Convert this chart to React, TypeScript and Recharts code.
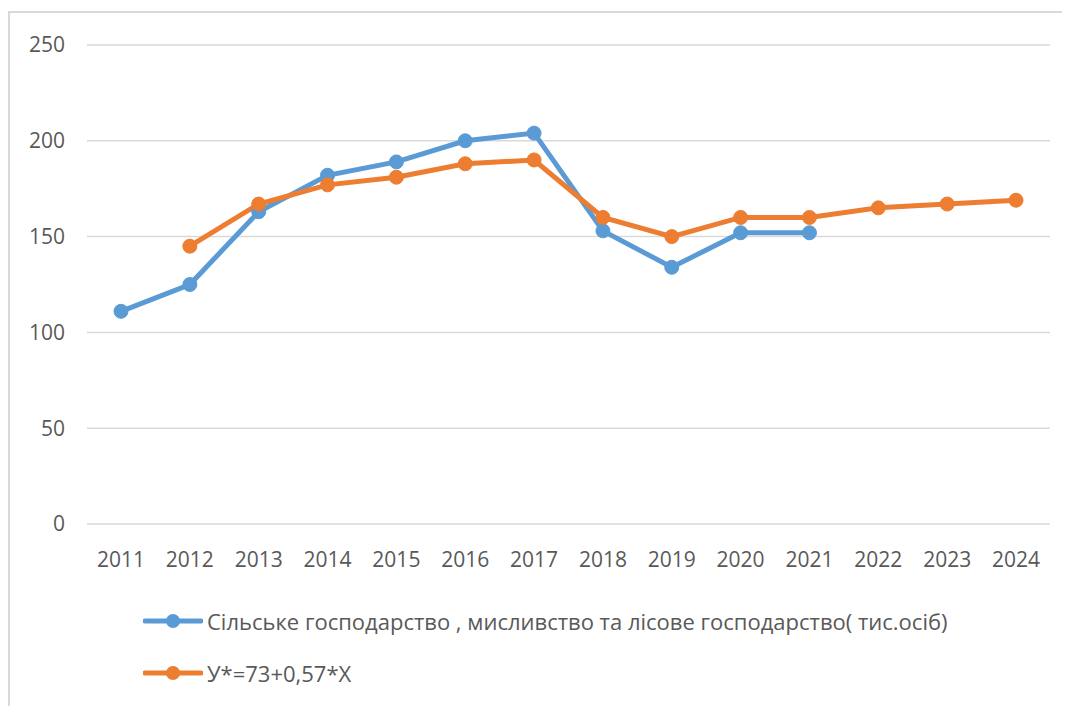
import React from "react";
import { LineChart, Line, XAxis, YAxis, CartesianGrid } from "recharts";

const YEARS = ["2011", "2012", "2013", "2014", "2015", "2016", "2017", "2018", "2019", "2020", "2021", "2022", "2023", "2024"];
const ACTUAL = [111, 125, 163, 182, 189, 200, 204, 153, 134, 152, 152, null, null, null];
const TREND = [null, 145, 167, 177, 181, 188, 190, 160, 150, 160, 160, 165, 167, 169];
const Y_TICKS = [0, 50, 100, 150, 200, 250];

const SERIES = [
  { key: "actual", name: "Сільське господарство , мисливство та лісове господарство( тис.осіб)", color: "#5B9BD5" },
  { key: "trend", name: "У*=73+0,57*Х", color: "#ED7D31" },
];

const data = YEARS.map((year, i) => ({ year, actual: ACTUAL[i], trend: TREND[i] }));

const FONT = "'Open Sans', 'Noto Sans', sans-serif";
const tickStyle = { fill: "#595959", fontSize: 21, fontFamily: FONT };

export default function App() {
  return (
    <div
      style={{
        position: "relative",
        marginTop: 3,
        width: 1062,
        height: 700,
        borderLeft: "2px solid #d9d9d9",
        borderTop: "2px solid #d9d9d9",
        boxSizing: "border-box",
        background: "#fff",
        fontFamily: FONT,
      }}
    >
      <LineChart width={1060} height={580} data={data} margin={{ top: 32, right: 20, left: 17, bottom: 0 }}>
        <CartesianGrid vertical={false} stroke="#d9d9d9" strokeWidth={1.5} />
        <XAxis
          dataKey="year"
          axisLine={false}
          tickLine={false}
          tickSize={0}
          tickMargin={28}
          tick={tickStyle}
          height={69}
          interval={0}
          padding={{ left: 34, right: 34 }}
        />
        <YAxis
          domain={[0, 250]}
          ticks={Y_TICKS}
          axisLine={false}
          tickLine={false}
          tickSize={0}
          tickMargin={22}
          tick={tickStyle}
          width={60}
        />
        {SERIES.map((s) => (
          <Line
            key={s.key}
            dataKey={s.key}
            name={s.name}
            stroke={s.color}
            strokeWidth={5}
            dot={{ r: 7, fill: s.color, stroke: s.color, strokeWidth: 1 }}
            activeDot={false}
            isAnimationActive={false}
          />
        ))}
      </LineChart>
      <div style={{ position: "absolute", left: 133, top: 582 }}>
        {SERIES.map((s) => (
          <div key={s.key} style={{ display: "flex", alignItems: "center", height: 52, fontSize: 22, color: "#595959" }}>
            <svg width={60} height={20} style={{ marginRight: 4 }}>
              <line x1={2} y1={10} x2={58} y2={10} stroke={s.color} strokeWidth={5} strokeLinecap="round" />
              <circle cx={30} cy={10} r={7} fill={s.color} />
            </svg>
            <span>{s.name}</span>
          </div>
        ))}
      </div>
    </div>
  );
}
